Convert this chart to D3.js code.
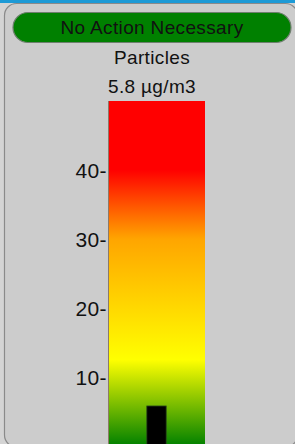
<!DOCTYPE html>
<html>
<head>
<meta charset="utf-8">
<script src="https://cdn.jsdelivr.net/npm/d3@7"></script>
<style>
  html, body { margin: 0; padding: 0; background: #d4d4d4; overflow: hidden; }
  svg { display: block; }
  text { font-family: "Liberation Sans", Arial, sans-serif; fill: #111; }
</style>
</head>
<body>
<svg id="chart" width="295" height="444"></svg>
<script>
// ---- data ----
const categories = ["Particles"];
const values = [5.8];
const unit = "µg/m3";
const statusLabel = "No Action Necessary";
const tickValues = [10, 20, 30, 40];
const yDomain = [0, 50];
const thresholdValues = [0, 12.5, 30, 40, 50];

// ---- styles ----
const thresholdColors = ["#008000", "#ffff00", "#ffa500", "#ff0000", "#ff0000"];

const svg = d3.select("#chart");
const W = 295, H = 444;

// top blue strip
svg.append("rect").attr("x", 0).attr("y", 0).attr("width", W).attr("height", 3).attr("fill", "#1d9ad6");

// panel
svg.append("rect")
  .attr("x", 4.5).attr("y", 3.5).attr("width", 293).attr("height", 443.5)
  .attr("rx", 12).attr("ry", 12)
  .attr("fill", "#cccccc").attr("stroke", "#8a8a8a").attr("stroke-width", 1.2);

// status pill
svg.append("rect")
  .attr("x", 13).attr("y", 12.5).attr("width", 278).attr("height", 30)
  .attr("rx", 15).attr("ry", 15)
  .attr("fill", "#008000").attr("stroke", "#6f7f6f").attr("stroke-width", 1.2);
svg.append("text").attr("x", 152).attr("y", 34)
  .attr("text-anchor", "middle").style("font-size", "19px").style("letter-spacing", "0.35px")
  .text(statusLabel);

// titles
svg.append("text").attr("x", 152).attr("y", 64)
  .attr("text-anchor", "middle").style("font-size", "19px").style("letter-spacing", "0.35px")
  .text(categories[0]);
svg.append("text").attr("x", 152).attr("y", 92.5)
  .attr("text-anchor", "middle").style("font-size", "19px").style("letter-spacing", "0.35px")
  .text(values[0] + " " + unit);

// scales
const x = d3.scaleBand().domain(categories).range([108, 205]).padding(0);
const y = d3.scaleLinear().domain(yDomain).range([446, 101]);

// gradient
const defs = svg.append("defs");
const grad = defs.append("linearGradient").attr("id", "lvl")
  .attr("gradientUnits", "userSpaceOnUse")
  .attr("x1", 0).attr("x2", 0).attr("y1", y(yDomain[0])).attr("y2", y(yDomain[1]));
thresholdValues.forEach((v, i) => {
  grad.append("stop")
    .attr("offset", (v - yDomain[0]) / (yDomain[1] - yDomain[0]))
    .attr("stop-color", thresholdColors[i]);
});

svg.selectAll("rect.scale").data(categories).join("rect").attr("class", "scale")
  .attr("x", d => x(d)).attr("width", x.bandwidth())
  .attr("y", y(yDomain[1])).attr("height", y(yDomain[0]) - y(yDomain[1]))
  .attr("fill", "url(#lvl)");

// axis
const axis = d3.axisLeft(y).tickValues(tickValues).tickSize(0).tickPadding(0)
  .tickFormat(d => d + "-");
const gA = svg.append("g").attr("transform", `translate(${x.range()[0]},0)`).call(axis);
gA.select(".domain").remove();
gA.selectAll("text").style("font-size", "21px").style("letter-spacing", "0.4px")
  .attr("x", -1).attr("dy", "0.35em").style("fill", "#111");
svg.append("line")
  .attr("x1", x.range()[0] + 0.5).attr("x2", x.range()[0] + 0.5)
  .attr("y1", y(yDomain[1])).attr("y2", H)
  .attr("stroke", "#8c7a68").attr("stroke-width", 1);

// value bar
const bw = x.bandwidth() * 0.2;
svg.selectAll("rect.val").data(values).join("rect").attr("class", "val")
  .attr("x", (d, i) => x(categories[i]) + x.bandwidth() / 2 - bw / 2)
  .attr("width", bw)
  .attr("y", d => y(d)).attr("height", d => y(0) - y(d))
  .attr("fill", "#000").attr("stroke", "#2a4a1a").attr("stroke-width", 0.8);
</script>
</body>
</html>
